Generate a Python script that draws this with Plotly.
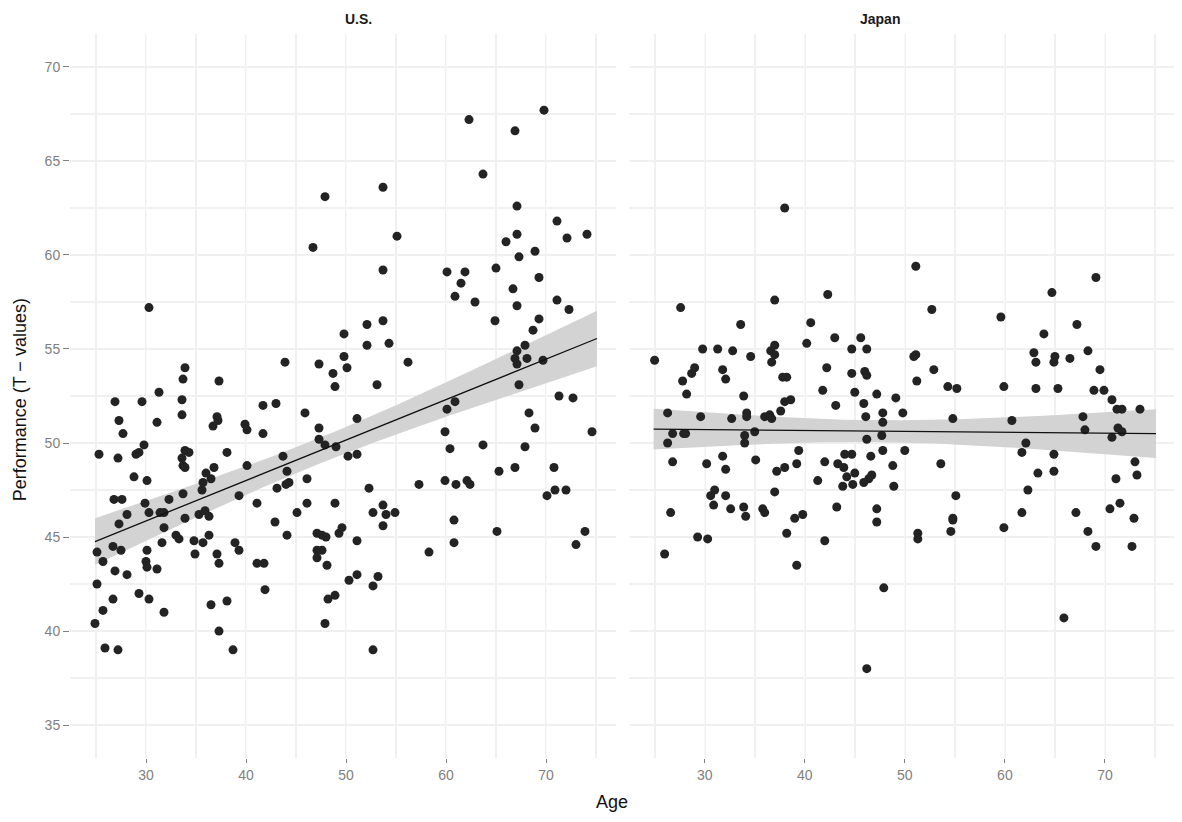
import numpy as np
import plotly.graph_objects as go

# ---------------- data ----------------
us_age = [47.9, 46.7, 30.3, 49.8, 62.3, 69.8, 66.9, 63.7, 53.7, 67.1, 71.1, 55.1, 67.1, 66.0, 72.1, 74.1,
          67.3, 68.9, 53.7, 60.1, 61.9, 61.5, 65.0, 69.3, 66.7, 60.9, 62.9, 67.1, 71.1, 72.3, 64.9, 69.3,
          68.7, 52.1, 53.7,
          25.3, 26.9, 29.6, 31.3, 27.3, 27.7, 31.1, 29.8, 29.3, 29.0, 27.2, 28.8, 30.1, 26.8, 27.6, 29.9,
          32.3, 33.9, 33.7, 33.6, 33.6, 33.9, 34.3, 33.6, 33.7, 33.9, 37.3, 37.1, 37.2, 36.7, 38.1, 36.8,
          36.0, 36.5, 35.7, 35.6, 33.7, 39.9, 40.1, 41.7, 43.0, 41.7, 40.1, 39.3, 41.1, 43.9, 47.3, 48.7,
          48.9, 49.8, 45.9, 47.3, 47.3, 47.9, 49.0, 43.7, 44.1, 44.3, 44.0, 43.1, 46.1, 46.1, 48.9,
          50.1, 52.1, 54.3, 56.2, 53.1, 67.9, 67.1, 66.9, 67.1, 68.1, 69.7, 67.3, 71.3, 72.7, 60.9, 60.1,
          51.1, 59.9, 68.3, 68.9, 74.6, 60.4, 63.7, 67.9, 50.2, 51.1, 65.3, 66.9, 70.8, 70.1, 70.9, 72.0,
          52.3, 57.3, 59.9, 61.0, 62.1, 62.4, 53.7,
          28.1, 27.3, 30.3, 31.4, 31.8, 31.8, 33.9, 35.3, 35.9, 36.3, 33.0, 33.3, 36.3, 34.8, 35.7, 31.6,
          26.7, 27.5, 25.1, 25.7, 30.1, 30.0, 30.1, 31.1, 26.9, 28.1, 34.9, 37.1, 37.3, 38.9, 39.3, 41.1,
          41.8, 42.9, 44.1, 45.1, 47.1, 47.6, 48.0, 49.3, 49.6, 47.1, 47.6, 47.1, 48.1, 25.1, 26.7, 25.7,
          24.9, 29.3, 30.3, 31.8, 25.9, 27.2, 36.5, 38.1, 37.3, 38.7, 41.9, 48.2, 48.9, 47.9,
          51.1, 52.7, 54.0, 54.9, 53.7, 50.3, 51.1, 53.2, 52.7, 52.7, 60.8, 60.8, 58.3, 65.1, 73.9, 73.0]
us_perf = [63.1, 60.4, 57.2, 55.8, 67.2, 67.7, 66.6, 64.3, 63.6, 62.6, 61.8, 61.0, 61.1, 60.7, 60.9, 61.1,
           59.9, 60.2, 59.2, 59.1, 59.1, 58.5, 59.3, 58.8, 58.2, 57.8, 57.5, 57.3, 57.6, 57.1, 56.5, 56.6,
           56.0, 56.3, 56.5,
           49.4, 52.2, 52.2, 52.7, 51.2, 50.5, 51.1, 49.9, 49.5, 49.4, 49.2, 48.2, 48.0, 47.0, 47.0, 46.8,
           47.0, 54.0, 53.4, 52.3, 51.5, 49.6, 49.5, 49.2, 48.8, 48.7, 53.3, 51.4, 51.2, 50.9, 49.5, 48.7,
           48.4, 48.1, 47.9, 47.5, 47.3, 51.0, 50.7, 52.0, 52.1, 50.5, 48.8, 47.2, 46.8, 54.3, 54.2, 53.7,
           53.0, 54.6, 51.6, 50.8, 50.2, 49.9, 49.8, 49.3, 48.5, 47.9, 47.8, 47.6, 48.1, 46.8, 46.8,
           54.0, 55.2, 55.3, 54.3, 53.1, 55.2, 54.9, 54.5, 54.2, 54.5, 54.4, 53.1, 52.5, 52.4, 52.2, 51.8,
           51.3, 50.6, 51.6, 50.8, 50.6, 49.7, 49.9, 49.8, 49.3, 49.4, 48.5, 48.7, 48.7, 47.2, 47.5, 47.5,
           47.6, 47.8, 48.0, 47.8, 48.0, 47.8, 46.7,
           46.2, 45.7, 46.3, 46.3, 46.3, 45.5, 46.0, 46.2, 46.4, 46.1, 45.1, 44.9, 45.1, 44.8, 44.7, 44.7,
           44.5, 44.3, 44.2, 43.7, 44.3, 43.7, 43.4, 43.3, 43.2, 43.0, 44.1, 44.1, 43.6, 44.7, 44.3, 43.6,
           43.6, 45.8, 45.1, 46.3, 45.2, 45.1, 45.0, 45.2, 45.5, 44.3, 44.3, 43.9, 43.5, 42.5, 41.7, 41.1,
           40.4, 42.0, 41.7, 41.0, 39.1, 39.0, 41.4, 41.6, 40.0, 39.0, 42.2, 41.7, 41.9, 40.4,
           44.8, 46.3, 46.2, 46.3, 45.6, 42.7, 43.0, 42.9, 42.4, 39.0, 45.9, 44.7, 44.2, 45.3, 45.3, 44.6]

jp_age = [38.0, 27.6, 37.0, 42.3, 33.6, 40.6, 43.0, 45.6, 44.7, 46.2, 40.2, 29.8, 31.3, 32.8, 34.6, 37.0,
          36.6, 37.0, 25.0,
          51.1, 52.7, 59.6, 64.7, 69.1, 67.2, 63.9, 62.9, 65.0, 66.5, 68.3, 51.1, 50.9,
          36.7, 29.0, 28.7, 27.8, 28.2, 31.8, 32.1, 33.9, 37.8, 38.2, 38.0, 38.6, 37.6, 42.2, 41.8, 44.7,
          46.0, 46.2, 45.0, 47.2, 49.1, 43.1, 45.9, 46.1, 47.8, 47.8, 26.3, 29.6, 32.7, 34.2, 34.2, 36.0,
          36.5, 36.7, 26.8, 27.9, 28.1, 26.3, 34.0, 34.0, 35.0, 46.2, 47.7, 39.4, 47.8, 26.8, 30.2, 31.8,
          32.1, 35.1, 37.2, 38.0, 39.2, 42.0, 43.3, 44.0, 44.7, 43.9, 44.2, 45.0, 46.6, 46.7, 46.4, 45.9,
          44.8, 43.8, 41.3, 48.8, 48.9, 37.0, 31.0, 30.6, 32.1, 30.9, 32.6, 33.9, 34.1, 35.8, 36.0, 39.0,
          39.8, 43.2, 47.2, 26.6,
          51.2, 52.9, 54.3, 55.2, 49.8, 50.0, 54.8, 53.6, 55.1, 54.8, 59.9, 60.7, 63.1, 63.1, 64.9, 65.3,
          69.5, 68.9, 69.9, 70.7, 71.2, 71.7, 73.5, 67.8, 68.0, 71.3, 71.7, 70.7, 62.1, 61.7, 64.9, 64.9,
          63.3, 62.3, 61.7, 67.1, 71.1, 73.0, 73.2, 70.5, 71.5, 72.9,
          29.3, 30.3, 26.0, 38.2, 42.0, 39.2, 47.2, 47.9, 46.2,
          51.3, 51.3, 54.8, 54.6, 59.9, 68.3, 69.1, 72.7, 65.9]
jp_perf = [62.5, 57.2, 57.6, 57.9, 56.3, 56.4, 55.6, 55.6, 55.0, 55.0, 55.3, 55.0, 55.0, 54.9, 54.6, 55.2,
           54.9, 54.7, 54.4,
           59.4, 57.1, 56.7, 58.0, 58.8, 56.3, 55.8, 54.8, 54.6, 54.5, 54.9, 54.7, 54.6,
           54.3, 54.0, 53.7, 53.3, 52.6, 53.9, 53.4, 52.5, 53.5, 53.5, 52.2, 52.3, 51.7, 54.0, 52.8, 53.7,
           53.8, 53.6, 52.7, 52.6, 52.4, 52.0, 52.1, 51.4, 51.6, 51.1, 51.6, 51.4, 51.3, 51.6, 51.4, 51.4,
           51.5, 51.3, 50.5, 50.5, 50.5, 50.0, 50.4, 50.0, 50.6, 50.2, 50.4, 49.6, 49.6, 49.0, 48.9, 49.3,
           48.6, 49.1, 48.5, 48.7, 48.9, 49.0, 48.9, 49.4, 49.4, 48.7, 48.2, 48.4, 49.3, 48.3, 48.1, 47.9,
           47.8, 47.7, 48.0, 48.8, 47.7, 47.4, 47.5, 47.2, 47.2, 46.7, 46.5, 46.6, 46.1, 46.5, 46.3, 46.0,
           46.2, 46.6, 46.5, 46.3,
           53.3, 53.9, 53.0, 52.9, 51.6, 49.6, 51.3, 48.9, 47.2, 46.0, 53.0, 51.2, 54.3, 52.9, 54.3, 52.9,
           53.9, 52.8, 52.8, 52.3, 51.8, 51.8, 51.8, 51.4, 50.7, 50.8, 50.6, 50.3, 50.0, 49.5, 49.4, 48.5,
           48.4, 47.5, 46.3, 46.3, 48.1, 49.0, 48.3, 46.5, 46.8, 46.0,
           45.0, 44.9, 44.1, 45.2, 44.8, 43.5, 45.8, 42.3, 38.0,
           45.2, 44.9, 45.9, 45.3, 45.5, 45.3, 44.5, 44.5, 40.7]

panels = ["U.S.", "Japan"]
x_ticks = [30, 40, 50, 60, 70]
y_ticks = [35, 40, 45, 50, 55, 60, 65, 70]
smooth_range = [24.9, 75.1]   # x extent of the fitted lines as drawn in the source


def lm_band(x, y, n=80, tq=1.972):
    x = np.asarray(x, float)
    y = np.asarray(y, float)
    b, a = np.polyfit(x, y, 1)
    resid = y - (a + b * x)
    s = np.sqrt(np.sum(resid ** 2) / (len(x) - 2))
    xs = np.linspace(smooth_range[0], smooth_range[1], n)
    sxx = np.sum((x - x.mean()) ** 2)
    se = s * np.sqrt(1 / len(x) + (xs - x.mean()) ** 2 / sxx)
    fit = a + b * xs
    return xs, fit, fit - tq * se, fit + tq * se


fig = go.Figure()
data_sets = [(us_age, us_perf, "x", "y"), (jp_age, jp_perf, "x2", "y2")]
for ages, perf, xa, ya in data_sets:
    xs, fit, lo, hi = lm_band(ages, perf)
    fig.add_trace(go.Scatter(x=np.concatenate([xs, xs[::-1]]), y=np.concatenate([hi, lo[::-1]]),
                             fill="toself", fillcolor="#D3D3D3", line=dict(width=0),
                             mode="lines", hoverinfo="skip", showlegend=False, xaxis=xa, yaxis=ya))
    fig.add_trace(go.Scatter(x=ages, y=perf, mode="markers",
                             marker=dict(size=9, color="#232323", line=dict(width=0)),
                             showlegend=False, xaxis=xa, yaxis=ya))
    fig.add_trace(go.Scatter(x=xs, y=fit, mode="lines", line=dict(color="#111111", width=1.3),
                             showlegend=False, xaxis=xa, yaxis=ya))

tick_font = dict(family="Liberation Sans, Arial, sans-serif", size=14, color="#7F7F7F")
grid_c = "#F0F0F0"
xcommon = dict(range=[22.4, 77.0], tickvals=x_ticks, ticktext=[str(v) for v in x_ticks],
               showgrid=True, gridcolor="#F8F8F8", gridwidth=1,
               minor=dict(dtick=5, tick0=25, showgrid=True, gridcolor=grid_c, gridwidth=1.6),
               ticks="outside", ticklen=4, tickcolor="#7F7F7F", tickfont=tick_font,
               zeroline=False, showline=False)
ycommon = dict(range=[33.25, 71.75], tickvals=y_ticks, showgrid=True, gridcolor=grid_c, gridwidth=1.6,
               minor=dict(dtick=2.5, tick0=35, showgrid=True, gridcolor=grid_c, gridwidth=1.6),
               zeroline=False, showline=False)

W, H = 1182, 822
off = 8  # page body margin
ml, mr, mt, mb = 70 - off, 7 + off, 34 - off, 64 + off
pw = W - ml - mr
d1 = [0, 546 / pw]
d2 = [(628.6 - 70) / pw, 1.0]

fig.update_layout(
    width=W, height=H,
    margin=dict(l=ml, r=mr, t=mt, b=mb, autoexpand=False),
    paper_bgcolor="white", plot_bgcolor="white",
    font=dict(family="Liberation Sans, Arial, sans-serif"),
    xaxis=dict(domain=d1, anchor="y", **xcommon),
    xaxis2=dict(domain=d2, anchor="y2", **xcommon),
    yaxis=dict(anchor="x", ticks="outside", ticklen=6, tickcolor="#7F7F7F", tickfont=tick_font,
               automargin=False, **ycommon),
    yaxis2=dict(anchor="x2", showticklabels=False, ticks="", **ycommon),
    annotations=[
        dict(text="<b>%s</b>" % panels[0], x=(d1[0] + d1[1]) / 2, y=1, xref="paper", yref="paper",
             yanchor="bottom", yshift=5, showarrow=False, font=dict(size=14, color="#1A1A1A")),
        dict(text="<b>%s</b>" % panels[1], x=(d2[0] + d2[1]) / 2, y=1, xref="paper", yref="paper",
             yanchor="bottom", yshift=5, showarrow=False, font=dict(size=14, color="#1A1A1A")),
        dict(text="Age", x=(612 - 70) / pw, y=0, xref="paper", yref="paper", yanchor="middle",
             yshift=-44, showarrow=False, font=dict(size=18, color="#111111")),
        dict(text="Performance (T − values)", x=(20 - 70) / pw, y=0.494, xref="paper", yref="paper",
             textangle=-90, xanchor="center", yanchor="middle", showarrow=False,
             font=dict(size=18, color="#111111")),
    ],
)

fig.write_html("out.html")
